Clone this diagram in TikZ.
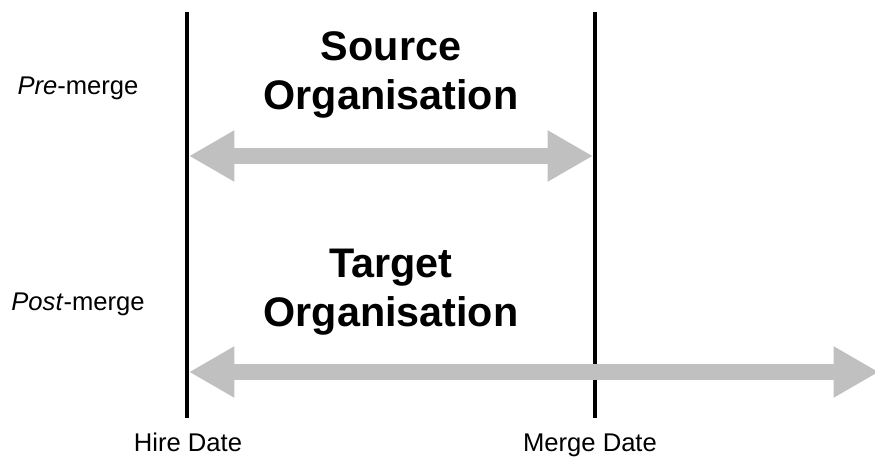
\documentclass[tikz,border=0pt]{standalone}
\usepackage{fontspec}
\setmainfont{Liberation Sans}
\usepackage{tikz}
\usetikzlibrary{arrows.meta}
\definecolor{spangrey}{RGB}{192,192,192}

\begin{document}
\begin{tikzpicture}[x=0.75pt,y=0.75pt,yscale=-1,xscale=1,
    dateline/.style={line width=3.6pt,black},
    spanarrow/.style={line width=12pt,spangrey,{Triangle[length=34pt,width=36pt]}-{Triangle[length=34pt,width=36pt]}},
    orglabel/.style={align=center,inner sep=0.75pt,font=\fontsize{31}{36.75}\selectfont\bfseries},
    sidelabel/.style={anchor=base,inner sep=0.75pt,font=\fontsize{19.2}{23}\selectfont}]
    \useasboundingbox (0,0) rectangle (875,459);

    % Date lines
    \coordinate (hiretop) at (187,12);
    \coordinate (hirebot) at (187,418);
    \coordinate (mergetop) at (595,12);
    \coordinate (mergebot) at (595,418);
    \draw [dateline] (hiretop) -- (hirebot);
    \draw [dateline] (mergetop) -- (mergebot);

    % Span arrows
    \coordinate (srcstart) at (189,156);
    \coordinate (srcend) at (593,156);
    \coordinate (tgtstart) at (189,372);
    \coordinate (tgtend) at (879,372);
    \draw [spanarrow] (srcstart) -- (srcend);
    \draw [spanarrow] (tgtstart) -- (tgtend);

    % Text Node
    \node [orglabel] (source) at (391,75) {Source\\Organisation};
    % Text Node
    \node [orglabel] (target) at (391,292) {Target\\Organisation};
    % Text Node
    \node [sidelabel] (pre) at (78,95) {\textit{Pre}-merge};
    % Text Node
    \node [sidelabel] (post) at (78,311) {\textit{Post}-merge};
    % Text Node
    \node [sidelabel] (hire) at (188,452) {Hire Date};
    % Text Node
    \node [sidelabel] (merge) at (590,452) {Merge Date};
\end{tikzpicture}
\end{document}
